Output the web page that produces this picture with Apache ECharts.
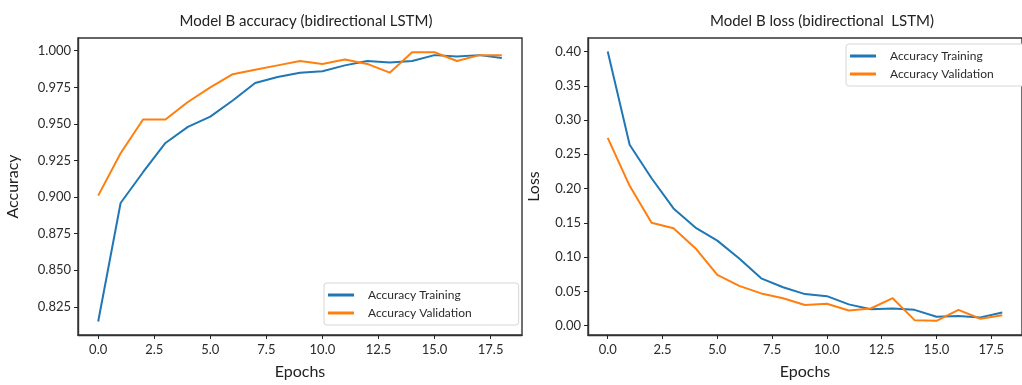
<!DOCTYPE html>
<html>
<head>
<meta charset="utf-8">
<script src="https://cdn.jsdelivr.net/npm/echarts@6/dist/echarts.min.js"></script>
<style>
  html, body { margin: 0; padding: 0; background: #fff; }
  #chart { width: 1022px; height: 385px; }
</style>
</head>
<body>
<div id="chart"></div>
<script>
// epochs 0..18
const epochs = [0, 1, 2, 3, 4, 5, 6, 7, 8, 9, 10, 11, 12, 13, 14, 15, 16, 17, 18]

// accuracy panel
const accTraining = [0.815, 0.896, 0.917, 0.937, 0.948, 0.955, 0.966, 0.978, 0.982, 0.985, 0.986, 0.990, 0.993, 0.992, 0.993, 0.997, 0.996, 0.997, 0.995]
const accValidation = [0.901, 0.930, 0.953, 0.953, 0.965, 0.975, 0.984, 0.987, 0.990, 0.993, 0.991, 0.994, 0.991, 0.985, 0.999, 0.999, 0.993, 0.997, 0.997]

// loss panel
const lossTraining = [0.400, 0.264, 0.215, 0.171, 0.143, 0.124, 0.098, 0.069, 0.056, 0.046, 0.043, 0.031, 0.024, 0.025, 0.023, 0.013, 0.014, 0.012, 0.019]
const lossValidation = [0.274, 0.204, 0.150, 0.142, 0.113, 0.074, 0.058, 0.047, 0.040, 0.030, 0.032, 0.022, 0.025, 0.040, 0.008, 0.007, 0.023, 0.010, 0.015]

// tick labels
const xTicks = [0, 2.5, 5, 7.5, 10, 12.5, 15, 17.5]
const accTicks = [0.825, 0.85, 0.875, 0.9, 0.925, 0.95, 0.975, 1.0]
const lossTicks = [0, 0.05, 0.1, 0.15, 0.2, 0.25, 0.3, 0.35, 0.4]

const seriesNames = ['Accuracy Training', 'Accuracy Validation']
const BLUE = '#1f77b4'
const ORANGE = '#ff7f0e'
const INK = '#222'
const FONT = 'Lato'

const pairs = (ys) => epochs.map((x, i) => [x, ys[i]])

const chart = echarts.init(document.getElementById('chart'), null, { renderer: 'canvas' })

// 坐标轴公共样式（仿 matplotlib）
const xAxisBase = (gridIndex) => ({
  type: 'value',
  gridIndex: gridIndex,
  min: -0.9,
  max: 18.9,
  name: 'Epochs',
  nameLocation: 'middle',
  nameGap: 29,
  nameTextStyle: { fontFamily: FONT, fontSize: 16, color: INK },
  axisLine: { show: true, onZero: false, lineStyle: { color: '#333', width: 1.4 } },
  splitLine: { show: false },
  axisTick: { show: true, length: 4, customValues: xTicks, lineStyle: { color: INK, width: 1 } },
  axisLabel: {
    customValues: xTicks,
    margin: 8,
    fontFamily: FONT,
    fontSize: 13,
    color: '#2b2b2b',
    formatter: (v) => v.toFixed(1),
  },
})

const yAxisBase = (gridIndex, min, max, ticks, digits, name, gap) => ({
  type: 'value',
  gridIndex: gridIndex,
  min: min,
  max: max,
  name: name,
  nameLocation: 'middle',
  nameGap: gap,
  nameRotate: 90,
  nameTextStyle: { fontFamily: FONT, fontSize: 16, color: INK },
  axisLine: { show: true, onZero: false, lineStyle: { color: '#333', width: 1.4 } },
  splitLine: { show: false },
  axisTick: { show: true, length: 4, customValues: ticks, lineStyle: { color: INK, width: 1 } },
  axisLabel: {
    customValues: ticks,
    margin: 7,
    fontFamily: FONT,
    fontSize: 13,
    color: '#2b2b2b',
    formatter: (v) => v.toFixed(digits),
  },
})

const lineSeries = (name, color, data, idx) => ({
  name: name,
  type: 'line',
  xAxisIndex: idx,
  yAxisIndex: idx,
  data: data,
  showSymbol: false,
  symbol: 'none',
  lineStyle: { color: color, width: 2 },
  itemStyle: { color: color },
  animation: false,
})

const legendBase = {
  orient: 'vertical',
  data: seriesNames,
  icon: 'rect',
  itemWidth: 26,
  itemHeight: 3,
  itemGap: 6,
  backgroundColor: '#fff',
  borderColor: '#d6d6d6',
  borderWidth: 1,
  borderRadius: 3,
  selectedMode: false,
  textStyle: { fontFamily: FONT, fontSize: 12, color: '#2b2b2b', padding: [0, 0, 0, 9] },
}

const option = {
  backgroundColor: '#ffffff',
  animation: false,
  title: [
    {
      text: 'Model B accuracy (bidirectional LSTM)',
      left: 301,
      top: 9,
      textAlign: 'center',
      textStyle: { fontFamily: FONT, fontSize: 15, fontWeight: 'normal', color: INK },
    },
    {
      text: 'Model B loss (bidirectional  LSTM)',
      left: 817,
      top: 9,
      textAlign: 'center',
      textStyle: { fontFamily: FONT, fontSize: 15, fontWeight: 'normal', color: INK },
    },
  ],
  grid: [
    { left: 78, top: 38, width: 444, height: 298, show: true, borderColor: '#333', borderWidth: 1.4, backgroundColor: 'transparent' },
    { left: 588, top: 38, width: 444, height: 298, show: true, borderColor: '#333', borderWidth: 1.4, backgroundColor: 'transparent' },
  ],
  legend: [
    Object.assign({}, legendBase, { left: 324, top: 283, padding: [6, 47, 6, 4] }),
    Object.assign({}, legendBase, { left: 846, top: 44, padding: [6, 80, 6, 4] }),
  ],
  xAxis: [xAxisBase(0), xAxisBase(1)],
  yAxis: [
    yAxisBase(0, 0.8058, 1.0087, accTicks, 3, 'Accuracy', 57),
    yAxisBase(1, -0.0137, 0.4197, lossTicks, 2, 'Loss', 46),
  ],
  series: [
    lineSeries(seriesNames[0], BLUE, pairs(accTraining), 0),
    lineSeries(seriesNames[1], ORANGE, pairs(accValidation), 0),
    lineSeries(seriesNames[0], BLUE, pairs(lossTraining), 1),
    lineSeries(seriesNames[1], ORANGE, pairs(lossValidation), 1),
  ],
}

chart.setOption(option)
</script>
</body>
</html>
